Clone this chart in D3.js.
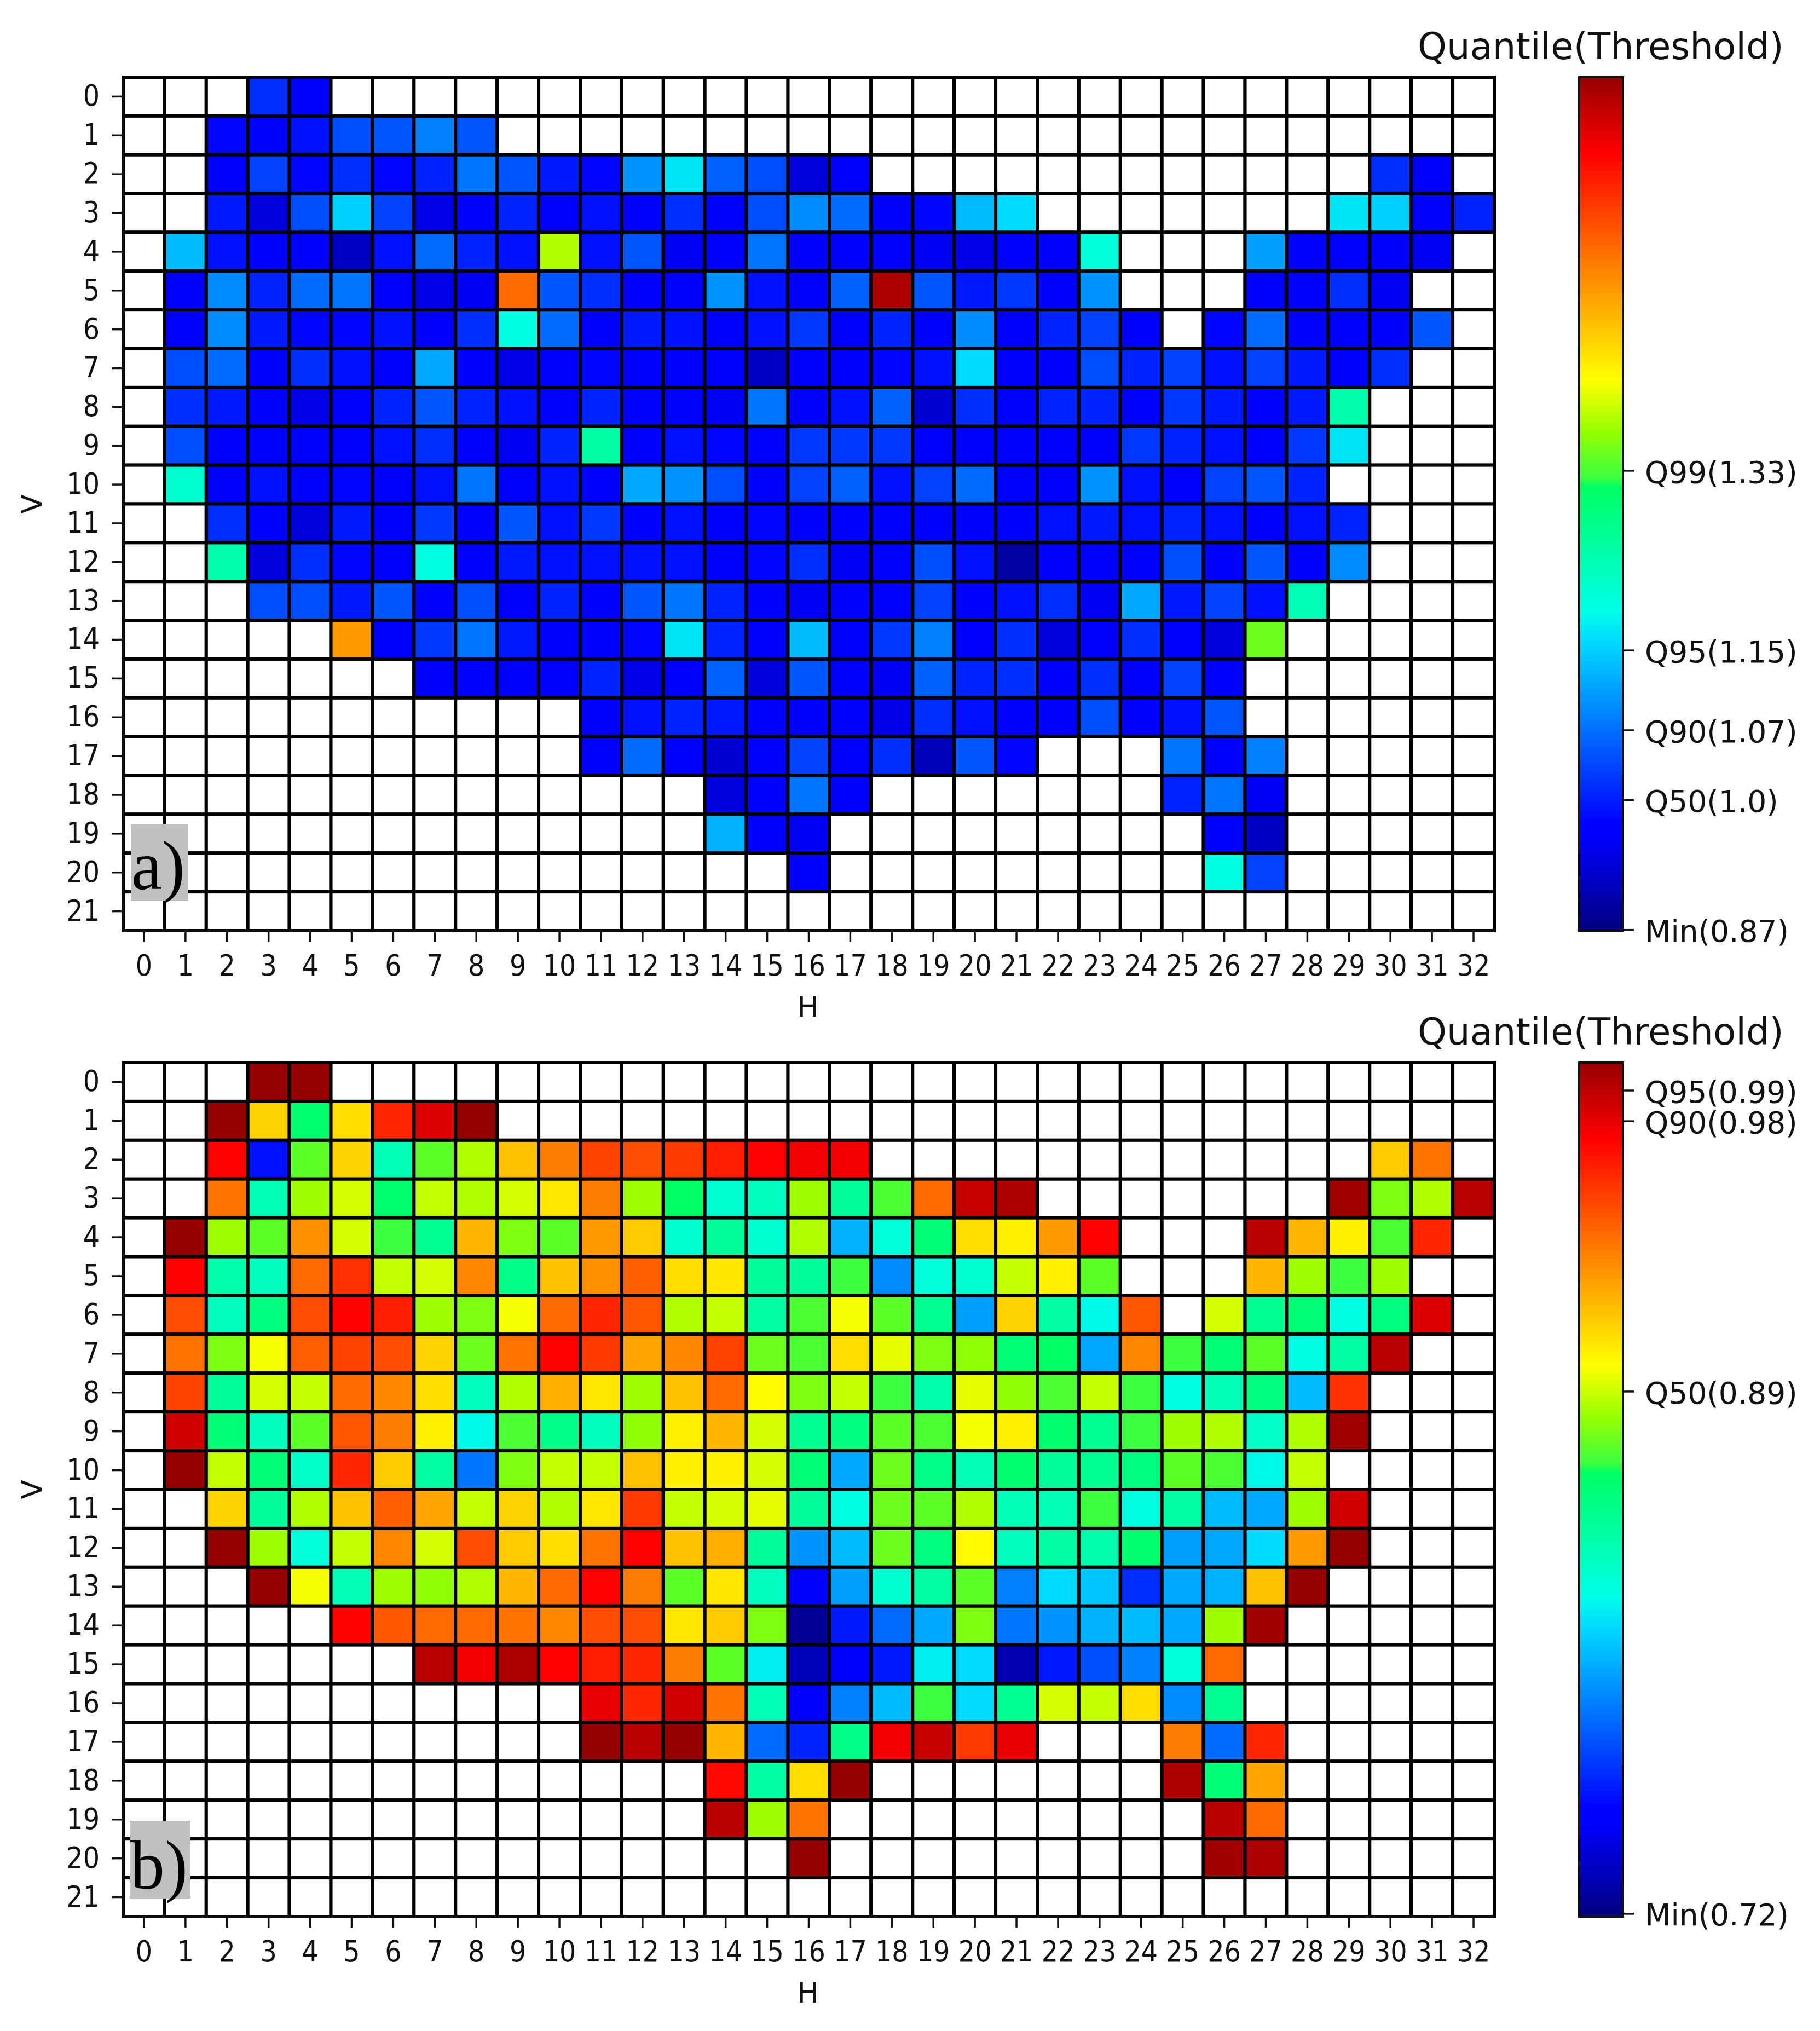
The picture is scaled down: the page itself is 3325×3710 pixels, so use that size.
<!DOCTYPE html>
<html>
<head>
<meta charset="utf-8">
<script src="https://cdnjs.cloudflare.com/ajax/libs/d3/7.8.5/d3.min.js"></script>
<style>
body { margin: 0; background: #fff; }
text { fill: #111; }
.tick text { font-family: "DejaVu Sans Condensed", "DejaVu Sans", sans-serif; font-size: 53px; }
.tick line, .domain { stroke: #111; stroke-width: 3.5px; }
.bar-axis .tick text { font-family: "DejaVu Sans", sans-serif; font-size: 55px; }
.bar-axis .domain { display: none; }
.axis-label { font-family: "DejaVu Sans", sans-serif; font-size: 52px; }
.bar-title { font-family: "DejaVu Sans", sans-serif; font-size: 67.3px; }
.panel-tag { font-family: "Liberation Serif", serif; font-size: 126px; fill: #000; }
</style>
</head>
<body>
<script>
var _ = null;

var hLabels = d3.range(33);
var vLabels = d3.range(22);

// colour bar: position along the bar in percent, and the colour found there
var barPositions = [0, 11, 12.5, 34, 37.5, 52, 53, 58.5, 64.5, 91, 100];
var barColors = ["#000080", "#0000ff", "#0000ff", "#00dbff", "#00ffe6", "#00ff64", "#3cff41", "#96ff00", "#ffff00", "#ff0000", "#960000"];

// threshold range of each colour bar
var domainA = [0.869, 1.724];
var domainB = [0.719, 0.997];

var ticksA = [0.87, 1.0, 1.07, 1.15, 1.33];
var tickLabelsA = ["Min(0.87)", "Q50(1.0)", "Q90(1.07)", "Q95(1.15)", "Q99(1.33)"];
var ticksB = [0.72, 0.89, 0.978, 0.988];
var tickLabelsB = ["Min(0.72)", "Q50(0.89)", "Q90(0.98)", "Q95(0.99)"];

// cells, as percent along the colour bar, _ = no data
var cellsA = [
  [_,_,_,17,12,_,_,_,_,_,_,_,_,_,_,_,_,_,_,_,_,_,_,_,_,_,_,_,_,_,_,_,_],
  [_,_,13,12,14,20,21,25,21,_,_,_,_,_,_,_,_,_,_,_,_,_,_,_,_,_,_,_,_,_,_,_,_],
  [_,_,12,19,13,17,13,16,24,21,15,13,27,35,22,20,8,12,_,_,_,_,_,_,_,_,_,_,_,_,17,12,_],
  [_,_,15,8,20,33,19,9,12,16,12,14,12,17,12,20,26,23,12,13,31,34,_,_,_,_,_,_,_,35,33,12,16],
  [_,31,14,12,11,6,14,23,16,14,60,14,21,10,12,24,12,12,12,10,9,12,12,39,_,_,_,28,12,12,12,10,_],
  [_,12,26,16,23,24,12,9,10,80,21,17,12,11,27,14,12,22,98,21,15,18,12,27,_,_,_,11,12,17,10,_,_],
  [_,12,26,15,13,13,14,12,17,38,23,11,15,14,12,14,18,12,16,12,26,12,16,19,12,_,13,23,11,12,12,21,_],
  [_,20,23,11,17,14,12,29,11,9,12,13,12,11,11,6,12,11,13,14,34,12,12,20,16,19,14,19,15,12,17,_,_],
  [_,17,15,12,9,12,16,21,16,14,12,16,12,11,10,24,12,14,22,7,17,12,16,16,12,18,15,12,15,44,_,_,_],
  [_,20,12,12,12,12,14,17,12,10,16,45,12,14,13,12,18,18,18,12,11,12,11,11,18,16,14,12,18,35,_,_,_],
  [_,40,12,14,11,13,12,14,24,11,14,12,29,27,20,12,19,22,14,19,23,12,11,27,14,12,19,21,16,_,_,_,_],
  [_,_,17,12,8,15,12,18,12,21,14,18,12,14,12,13,12,12,12,12,12,12,14,15,14,16,14,12,14,16,_,_,_],
  [_,_,44,8,17,13,11,38,12,15,14,14,14,14,12,13,17,10,12,20,14,3,12,11,12,20,12,21,12,26,_,_,_],
  [_,_,_,20,20,15,21,12,20,12,16,12,21,24,16,12,10,12,12,19,12,14,17,10,29,15,19,14,43,_,_,_,_],
  [_,_,_,_,_,75,11,18,24,15,12,12,13,35,16,12,31,12,18,25,12,17,8,12,17,12,8,56,_,_,_,_,_],
  [_,_,_,_,_,_,_,12,12,11,11,16,9,12,22,8,21,12,10,22,16,17,12,17,11,19,11,_,_,_,_,_,_],
  [_,_,_,_,_,_,_,_,_,_,_,12,14,16,15,12,11,12,9,17,14,12,11,20,11,14,21,_,_,_,_,_,_],
  [_,_,_,_,_,_,_,_,_,_,_,12,23,12,7,12,19,11,17,5,21,13,_,_,_,24,11,25,_,_,_,_,_],
  [_,_,_,_,_,_,_,_,_,_,_,_,_,_,8,12,24,11,_,_,_,_,_,_,_,16,24,10,_,_,_,_,_],
  [_,_,_,_,_,_,_,_,_,_,_,_,_,_,30,12,10,_,_,_,_,_,_,_,_,_,11,6,_,_,_,_,_],
  [_,_,_,_,_,_,_,_,_,_,_,_,_,_,_,_,12,_,_,_,_,_,_,_,_,_,38,19,_,_,_,_,_],
  [_,_,_,_,_,_,_,_,_,_,_,_,_,_,_,_,_,_,_,_,_,_,_,_,_,_,_,_,_,_,_,_,_]
];

var cellsB = [
  [_,_,_,100,100,_,_,_,_,_,_,_,_,_,_,_,_,_,_,_,_,_,_,_,_,_,_,_,_,_,_,_,_],
  [_,_,100,69,51,68,87,94,100,_,_,_,_,_,_,_,_,_,_,_,_,_,_,_,_,_,_,_,_,_,_,_,_],
  [_,_,91,14,55,69,43,55,60,71,78,84,83,85,88,91,92,92,_,_,_,_,_,_,_,_,_,_,_,_,70,79,_],
  [_,_,79,43,59,62,51,61,60,62,67,78,59,52,40,42,59,46,54,80,96,98,_,_,_,_,_,_,_,99,57,60,97],
  [_,100,59,55,76,62,53,47,72,57,55,75,70,40,46,40,60,30,39,50,68,66,75,91,_,_,_,97,72,66,54,87,_],
  [_,91,44,42,80,86,61,62,77,48,71,76,81,68,67,46,46,53,26,39,40,61,66,55,_,_,_,72,59,53,59,_,_],
  [_,83,42,49,83,91,88,59,57,64,80,87,82,60,61,45,54,64,55,47,28,69,45,37,82,_,62,47,50,38,49,94,_],
  [_,79,57,64,81,84,83,69,56,79,91,85,74,77,84,56,54,68,63,57,58,50,52,29,77,53,50,55,38,45,97,_,_],
  [_,84,46,62,61,80,77,68,42,60,73,67,59,71,80,65,57,61,53,44,63,58,54,61,53,38,43,49,31,86,_,_,_],
  [_,95,50,42,55,82,78,66,37,54,48,42,58,66,72,62,47,49,55,54,64,66,51,47,53,59,60,41,60,99,_,_,_],
  [_,100,61,50,41,87,70,45,24,57,61,61,71,66,66,62,50,29,56,48,43,51,46,47,49,55,54,37,61,_,_,_,_],
  [_,_,69,46,60,71,81,74,61,69,60,67,85,61,62,63,46,38,56,55,60,43,43,53,38,45,31,29,59,95,_,_,_],
  [_,_,100,59,39,61,77,62,83,70,68,79,91,71,73,46,27,31,56,49,65,42,45,44,51,28,29,34,75,100,_,_,_],
  [_,_,_,100,64,43,59,58,60,72,80,91,78,55,67,42,12,28,40,45,55,25,34,32,17,29,30,71,100,_,_,_,_],
  [_,_,_,_,_,91,82,80,80,79,77,83,83,67,70,57,2,15,23,29,57,24,27,30,31,29,59,99,_,_,_,_,_],
  [_,_,_,_,_,_,_,97,92,98,91,88,87,78,55,36,5,12,15,36,34,4,15,20,25,39,80,_,_,_,_,_,_],
  [_,_,_,_,_,_,_,_,_,_,_,93,87,95,79,43,12,25,31,53,34,47,62,61,68,26,47,_,_,_,_,_,_],
  [_,_,_,_,_,_,_,_,_,_,_,100,97,100,72,23,16,48,92,96,85,93,_,_,_,78,23,87,_,_,_,_,_],
  [_,_,_,_,_,_,_,_,_,_,_,_,_,_,90,45,68,100,_,_,_,_,_,_,_,98,50,74,_,_,_,_,_],
  [_,_,_,_,_,_,_,_,_,_,_,_,_,_,97,59,79,_,_,_,_,_,_,_,_,_,97,80,_,_,_,_,_],
  [_,_,_,_,_,_,_,_,_,_,_,_,_,_,_,_,100,_,_,_,_,_,_,_,_,_,99,98,_,_,_,_,_],
  [_,_,_,_,_,_,_,_,_,_,_,_,_,_,_,_,_,_,_,_,_,_,_,_,_,_,_,_,_,_,_,_,_]
];

var margin = { left: 225, right: 2730 };
var barLeft = 2885, barRight = 2965;

var svg = d3.select("body").append("svg")
    .attr("width", 3325)
    .attr("height", 3710);

var color = d3.scaleLinear().domain(barPositions).range(barColors);

var defs = svg.append("defs");

var gradient = defs.append("linearGradient")
    .attr("id", "barGradient")
    .attr("x1", 0).attr("y1", 1)
    .attr("x2", 0).attr("y2", 0);

gradient.selectAll("stop")
    .data(barPositions)
    .enter().append("stop")
    .attr("offset", d => d + "%")
    .attr("stop-color", d => color(d));

// the long colour bar labels run off the edge of the original figure
defs.append("clipPath")
    .attr("id", "barClip")
    .append("rect")
    .attr("x", 0).attr("y", -100)
    .attr("width", 321).attr("height", 3900);

function drawPanel(p) {
    var x = d3.scaleBand().domain(hLabels).range([margin.left, margin.right]);
    var y = d3.scaleBand().domain(vLabels).range([p.top, p.bottom]);

    var cells = [];
    p.cells.forEach((row, v) => row.forEach((value, h) => cells.push({ h: h, v: v, value: value })));

    svg.append("g").selectAll("rect")
        .data(cells)
        .enter().append("rect")
        .attr("x", d => x(d.h))
        .attr("y", d => y(d.v))
        .attr("width", x.bandwidth())
        .attr("height", y.bandwidth())
        .attr("fill", d => d.value === null ? "#fff" : color(d.value))
        .attr("stroke", "#000")
        .attr("stroke-width", 6);

    svg.append("g")
        .attr("transform", "translate(0," + p.bottom + ")")
        .call(d3.axisBottom(x).tickSize(20).tickPadding(24).tickSizeOuter(0));

    svg.append("g")
        .attr("transform", "translate(" + margin.left + ",0)")
        .call(d3.axisLeft(y).tickSize(20).tickPadding(23).tickSizeOuter(0));

    svg.append("text")
        .attr("class", "axis-label")
        .attr("x", 1476)
        .attr("y", p.bottom + 157)
        .attr("text-anchor", "middle")
        .text("H");

    svg.append("text")
        .attr("class", "axis-label")
        .attr("transform", "translate(76," + (p.top + 780) + ") rotate(-90)")
        .attr("text-anchor", "middle")
        .text("V");

    // grey tag pasted over the lower left corner
    svg.append("rect")
        .attr("x", p.tagX)
        .attr("y", p.tagY)
        .attr("width", p.tagW)
        .attr("height", p.tagH)
        .attr("fill", "#c0c0c0");

    svg.append("text")
        .attr("class", "panel-tag")
        .attr("x", p.tagX + 1)
        .attr("y", p.tagBase)
        .text(p.tag);

    // colour bar
    var scale = d3.scaleLinear().domain(p.domain).range([p.bottom, p.top]);

    svg.append("rect")
        .attr("x", barLeft)
        .attr("y", p.top)
        .attr("width", barRight - barLeft)
        .attr("height", p.bottom - p.top)
        .attr("fill", "url(#barGradient)")
        .attr("stroke", "#111")
        .attr("stroke-width", 4);

    var barAxis = svg.append("g")
        .attr("class", "bar-axis")
        .attr("transform", "translate(" + barRight + ",0)")
        .attr("clip-path", "url(#barClip)")
        .call(d3.axisRight(scale)
            .tickValues(p.ticks)
            .tickFormat((d, i) => p.tickLabels[i])
            .tickSize(20)
            .tickPadding(20));

    barAxis.selectAll("text").attr("y", 4);

    svg.append("text")
        .attr("class", "bar-title")
        .attr("x", 2590)
        .attr("y", p.top - 33)
        .text("Quantile(Threshold)");
}

drawPanel({
    top: 141, bottom: 1700, cells: cellsA, domain: domainA,
    ticks: ticksA, tickLabels: tickLabelsA, tag: "a)",
    tagX: 239, tagY: 1505, tagW: 105, tagH: 141, tagBase: 1624
});

drawPanel({
    top: 1941, bottom: 3501, cells: cellsB, domain: domainB,
    ticks: ticksB, tickLabels: tickLabelsB, tag: "b)",
    tagX: 237, tagY: 3326, tagW: 111, tagH: 142, tagBase: 3450
});
</script>
</body>
</html>
